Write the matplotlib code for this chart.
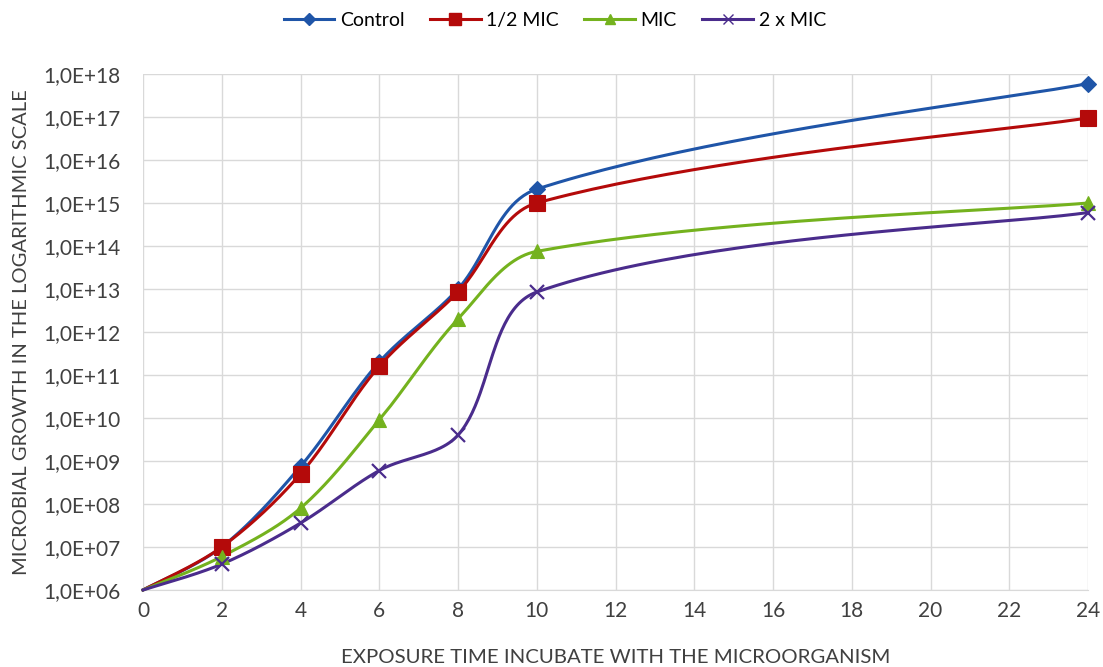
import numpy as np
import matplotlib
matplotlib.use("Agg")
from matplotlib import pyplot as plt
from matplotlib.ticker import FixedLocator, FuncFormatter

hours = [0, 2, 4, 6, 8, 10, 24]
control = [1e6, 1e7, 7.5e8, 2e11, 1e13, 2.1e15, 6e17]
half_mic = [1e6, 1e7, 5e8, 1.6e11, 8.5e12, 1e15, 9.5e16]
mic = [1e6, 6e6, 8e7, 9e9, 2e12, 7.5e13, 1e15]
two_mic = [1e6, 4e6, 3.6e7, 6e8, 4e9, 8.5e12, 6e14]

series = ["Control", "1/2 MIC", "MIC", "2 x MIC"]
colors = ["#1F55A8", "#B40A0A", "#74B21E", "#4A2C8C"]
markers = ["D", "s", "^", "x"]
msizes = [8.5, 12, 10, 10]

x_ticks = list(range(0, 25, 2))
y_exps = list(range(6, 19))

# pixel size of one x unit and one decade, used to smooth in screen space
SX, SY = 945 / 24, 43.0


def smooth(xs, ys, n=50):
    # excel-like smoothed line, bezier control points scaled by segment length
    p = np.column_stack([np.array(xs) * SX, np.log10(ys) * SY])
    pts = []
    for i in range(len(p) - 1):
        p0 = p[i - 1] if i > 0 else p[i]
        p3 = p[i + 2] if i + 2 < len(p) else p[i + 1]
        p1, p2 = p[i], p[i + 1]
        d01 = np.linalg.norm(p1 - p0)
        d12 = np.linalg.norm(p2 - p1)
        d23 = np.linalg.norm(p3 - p2)
        f1 = d12 / (d01 + d12) if d01 > 0 else 0.5
        f2 = d12 / (d12 + d23) if d23 > 0 else 0.5
        c1 = p1 + (p2 - p0) * f1 / 3
        c2 = p2 - (p3 - p1) * f2 / 3
        t = np.linspace(0, 1, n)[:, None]
        seg = (1 - t) ** 3 * p1 + 3 * (1 - t) ** 2 * t * c1 + 3 * (1 - t) * t ** 2 * c2 + t ** 3 * p2
        pts.append(seg if i == 0 else seg[1:])
    pts = np.vstack(pts)
    return pts[:, 0] / SX, 10 ** (pts[:, 1] / SY)


plt.rcParams['font.family'] = ['Lato', 'DejaVu Sans']
fig = plt.figure(figsize=(11.03, 6.67), dpi=100)
ax = fig.add_axes([143 / 1103, 1 - 590 / 667, 945 / 1103, 516 / 667])

data = [control, half_mic, mic, two_mic]
for name, ys, c, m, ms in zip(series, data, colors, markers, msizes):
    sx, sy = smooth(hours, ys)
    ax.plot(sx, sy, color=c, lw=2.2, zorder=3, clip_on=False)
    ax.plot(hours[1:], ys[1:], ls="none", marker=m, color=c, ms=ms,
            mew=1.6 if m == "x" else 0.8, zorder=4, clip_on=False)
    ax.plot([], [], color=c, lw=2.2, marker=m, ms=ms * 0.7, label=name)

ax.set_yscale("log")
ax.set_xlim(0, 24)
ax.set_ylim(1e6, 1e18)
ax.xaxis.set_major_locator(FixedLocator(x_ticks))
ax.yaxis.set_major_locator(FixedLocator([10.0 ** e for e in y_exps]))
ax.yaxis.set_minor_locator(FixedLocator([]))
ax.yaxis.set_major_formatter(FuncFormatter(lambda v, p: "1,0E+%02d" % round(np.log10(v))))
ax.grid(True, color="#D9D9D9", lw=1)
ax.set_axisbelow(True)
for s in ["top", "right", "left"]:
    ax.spines[s].set_visible(False)
ax.spines["bottom"].set_color("#D9D9D9")
ax.tick_params(axis="y", length=0, labelsize=15, colors="#404040", pad=16)
ax.tick_params(axis="x", length=0, labelsize=15, colors="#404040", pad=8)

ax.set_xlabel("EXPOSURE TIME INCUBATE WITH THE MICROORGANISM", fontsize=14.7, color="#404040", labelpad=20)
ax.set_ylabel("MICROBIAL GROWTH IN THE LOGARITHMIC SCALE", fontsize=14.5, color="#404040", labelpad=10)

fig.legend(loc="upper center", bbox_to_anchor=(0.503, 1.008), ncol=4, frameon=False,
           fontsize=14, handlelength=2.6, columnspacing=1.3, handletextpad=0.3)

fig.savefig("out.png", dpi=100)
